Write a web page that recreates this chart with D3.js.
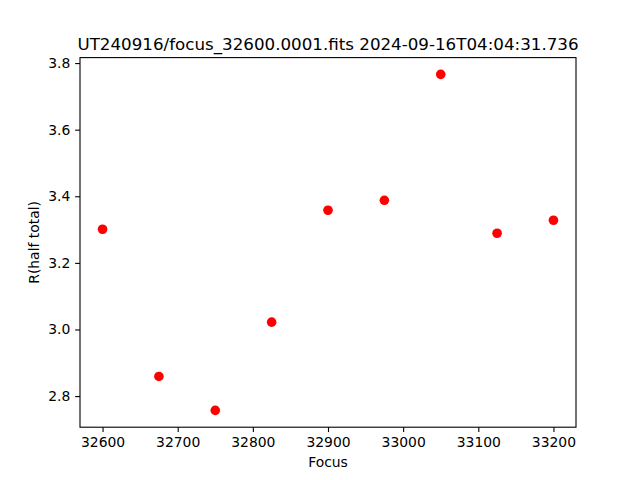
<!DOCTYPE html>
<html><head><meta charset="utf-8">
<script src="https://cdn.jsdelivr.net/npm/d3@7"></script>
<style>body{margin:0;background:#fff}svg{display:block;font-family:"DejaVu Sans",sans-serif}</style>
</head><body><svg id="c" width="640" height="480"></svg>
<script>
const focus = [32600, 32675, 32750, 32825, 32900, 32975, 33050, 33125, 33200];
const rHalf = [3.301, 2.859, 2.757, 3.022, 3.358, 3.388, 3.766, 3.289, 3.328];
const xTicks = [32600, 32700, 32800, 32900, 33000, 33100, 33200];
const yTicks = [2.8, 3.0, 3.2, 3.4, 3.6, 3.8];
const title = "UT240916/focus_32600.0001.fits 2024-09-16T04:04:31.736";

const L = 80, R = 576, T = 57.6, B = 427.2;
const svg = d3.select("#c");
const xmin = d3.min(focus), xmax = d3.max(focus), xr = xmax - xmin;
const ymin = d3.min(rHalf), ymax = d3.max(rHalf), yr = ymax - ymin;
const x = d3.scaleLinear().domain([xmin - 0.05*xr, xmax + 0.05*xr]).range([L, R]);
const y = d3.scaleLinear().domain([ymin - 0.05*yr, ymax + 0.05*yr]).range([B, T]);

const gx = svg.append("g").attr("transform", `translate(0,${B})`)
  .call(d3.axisBottom(x).tickValues(xTicks).tickFormat(d3.format("d")).tickSizeOuter(0).tickSize(4.86).tickPadding(4.86));
const gy = svg.append("g").attr("transform", `translate(${L},0)`)
  .call(d3.axisLeft(y).tickValues(yTicks).tickFormat(d3.format(".1f")).tickSizeOuter(0).tickSize(4.86).tickPadding(4.86));
[gx, gy].forEach(g => {
  g.select(".domain").remove();
  g.selectAll("text").attr("font-size", 13.9).attr("font-family", "DejaVu Sans").attr("fill", "#000");
  g.selectAll("line").attr("stroke", "#000").attr("stroke-width", 1.1);
});

svg.append("g").selectAll("circle").data(focus).join("circle")
  .attr("cx", (d) => x(d)).attr("cy", (d, i) => y(rHalf[i])).attr("r", 4.8).attr("fill", "#ff0000");

svg.append("rect").attr("x", L).attr("y", T).attr("width", R - L).attr("height", B - T)
  .attr("fill", "none").attr("stroke", "#000").attr("stroke-width", 1.1);

svg.append("text").attr("x", (L + R) / 2).attr("y", 50).attr("text-anchor", "middle")
  .attr("font-size", 16.7).text(title);
svg.append("text").attr("x", (L + R) / 2).attr("y", 467).attr("text-anchor", "middle")
  .attr("font-size", 13.9).text("Focus");
svg.append("text").attr("transform", `translate(39,${(T + B) / 2}) rotate(-90)`).attr("text-anchor", "middle")
  .attr("font-size", 13.9).text("R(half total)");
</script></body></html>
